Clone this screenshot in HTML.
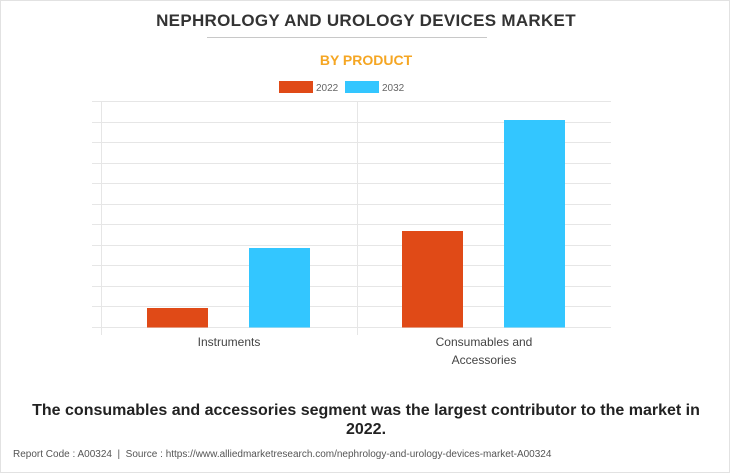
<!DOCTYPE html>
<html><head><style>
body{margin:0;background:#fff;}
.w{position:relative;width:728px;height:471px;border:1px solid #e2e2e2;background:#fff;font-family:"Liberation Sans",Arial,sans-serif;overflow:hidden}
.t{position:absolute;left:0;width:730px;text-align:center}
</style></head><body><div class="w">
<div class="t" style="top:10px;font-size:17px;font-weight:bold;color:#333;letter-spacing:0.3px">NEPHROLOGY AND UROLOGY DEVICES MARKET</div>
<div style="position:absolute;left:206px;top:36px;width:280px;height:1px;background:#c8c8c8"></div>
<div class="t" style="top:51px;font-size:14px;font-weight:bold;color:#f5a623">BY PRODUCT</div>
<svg style="position:absolute;left:-1px;top:-1px" width="730" height="473">
<rect x="279" y="81" width="34" height="12" fill="#e04a17"/>
<text x="316" y="91" font-size="10" fill="#666" font-family="Liberation Sans">2022</text>
<rect x="345" y="81" width="34" height="12" fill="#33c6ff"/>
<text x="382" y="91" font-size="10" fill="#666" font-family="Liberation Sans">2032</text>
<g stroke="#e6e6e6" stroke-width="1">
<line x1="92" x2="611" y1="101.5" y2="101.5"/><line x1="92" x2="611" y1="122.5" y2="122.5"/>
<line x1="92" x2="611" y1="142.5" y2="142.5"/><line x1="92" x2="611" y1="163.5" y2="163.5"/>
<line x1="92" x2="611" y1="183.5" y2="183.5"/><line x1="92" x2="611" y1="204.5" y2="204.5"/>
<line x1="92" x2="611" y1="224.5" y2="224.5"/><line x1="92" x2="611" y1="245.5" y2="245.5"/>
<line x1="92" x2="611" y1="265.5" y2="265.5"/><line x1="92" x2="611" y1="286.5" y2="286.5"/>
<line x1="92" x2="611" y1="306.5" y2="306.5"/><line x1="92" x2="611" y1="327.5" y2="327.5"/>
<line x1="101.5" x2="101.5" y1="101" y2="335"/><line x1="357.5" x2="357.5" y1="101" y2="335"/>
</g>
<rect x="147" y="308" width="61" height="19.5" fill="#e04a17"/>
<rect x="249" y="248" width="61" height="79.5" fill="#33c6ff"/>
<rect x="402" y="231" width="61" height="96.5" fill="#e04a17"/>
<rect x="504" y="120" width="61" height="207.5" fill="#33c6ff"/>
<g font-family="Liberation Sans" font-size="12" fill="#444" text-anchor="middle">
<text x="229" y="346">Instruments</text>
<text x="484" y="346">Consumables and</text>
<text x="484" y="364">Accessories</text>
</g>
</svg>
<div class="t" style="top:400px;font-size:16px;font-weight:bold;color:#222;line-height:19px">The consumables and accessories segment was the largest contributor to the market in<br>2022.</div>
<div style="position:absolute;left:12px;top:448px;font-size:10px;color:#555">Report Code : A00324 &nbsp;|&nbsp; Source : https://www.alliedmarketresearch.com/nephrology-and-urology-devices-market-A00324</div>
</div></body></html>
